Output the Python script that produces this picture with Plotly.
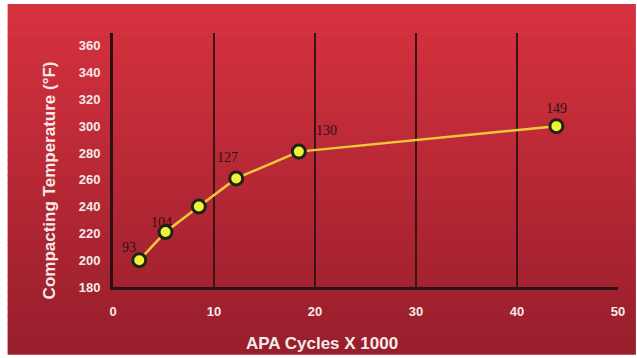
import plotly.graph_objects as go

# Data
cycles_k = [2.6, 5.2, 8.5, 12.2, 18.4, 43.9]
temp_f = [200, 221, 240, 261, 281, 300]
point_labels = ["93", "104", "", "127", "130", "149"]
x_ticks = [0, 10, 20, 30, 40, 50]
y_ticks = [180, 200, 220, 240, 260, 280, 300, 320, 340, 360]

W, H = 637, 358
L, R, T, B = 113, 16, 33, 71
PW, PH = W - L - R, H - T - B


def px_x(px):
    return (px - L) / PW


def px_y(py):
    return (H - B - py) / PH


fig = go.Figure()

# gradient background (bands)
n = 45
top = (214, 50, 62)
bot = (152, 30, 44)
ytop_px, ybot_px = 4, 354
shapes = []
for i in range(n):
    t = i / (n - 1)
    c = tuple(int(round(top[k] + (bot[k] - top[k]) * t)) for k in range(3))
    ya = ytop_px + (ybot_px - ytop_px) * i / n
    yb = ytop_px + (ybot_px - ytop_px) * (i + 1) / n + 0.8
    shapes.append(dict(type="rect", xref="paper", yref="paper", x0=px_x(7), x1=px_x(W + 2),
                       y0=px_y(yb), y1=px_y(ya), fillcolor="rgb(%d,%d,%d)" % c,
                       line=dict(width=0), layer="below"))

fig.add_trace(go.Scatter(
    x=cycles_k, y=temp_f, mode="lines+markers",
    line=dict(color="#eec83a", width=2.5),
    marker=dict(size=13, color="#eef23a", line=dict(color="#1e2414", width=3)),
    hoverinfo="skip", showlegend=False,
))

offsets = [(-10, 13), (-4, 10), (0, 0), (-9, 21), (28, 21), (0, 18)]
anns = []
for xv, yv, lab, (dx, dy) in zip(cycles_k, temp_f, point_labels, offsets):
    if not lab:
        continue
    anns.append(dict(x=xv, y=yv, text=lab, showarrow=False, xshift=dx, yshift=dy,
                     font=dict(family="Liberation Serif, Times New Roman, serif",
                               size=14, color="#2a1414")))

anns.append(dict(xref="paper", yref="paper", x=px_x(323), y=px_y(343),
                 text="<b>APA Cycles X 1000</b>", showarrow=False,
                 font=dict(family="Liberation Sans Narrow, Liberation Sans, Arial", size=17,
                           color="#f4eaea"), xanchor="center", yanchor="middle"))
anns.append(dict(xref="paper", yref="paper", x=px_x(49), y=px_y(180),
                 text="<b>Compacting Temperature (°F)</b>",
                 showarrow=False, textangle=-90,
                 font=dict(family="Liberation Sans Narrow, Liberation Sans, Arial", size=17,
                           color="#f4eaea"), xanchor="center", yanchor="middle"))

tickfont = dict(family="Liberation Sans Narrow, Liberation Sans, Arial", size=13,
                color="#f4eaea", weight="bold")

fig.update_layout(
    width=W, height=H,
    margin=dict(l=L, r=R, t=T, b=B),
    paper_bgcolor="white",
    plot_bgcolor="rgba(0,0,0,0)",
    shapes=shapes,
    annotations=anns,
    xaxis=dict(range=[0, 50], tickvals=x_ticks, showgrid=True, gridcolor="#3a1418",
               gridwidth=2, zeroline=False, showline=True, linecolor="#2a1214",
               linewidth=3, ticks="", tickfont=tickfont, ticklabelstandoff=10,
               fixedrange=True),
    yaxis=dict(range=[180, 369.5], tickvals=y_ticks, showgrid=False, zeroline=False,
               showline=True, linecolor="#2a1214", linewidth=3, ticks="",
               tickfont=tickfont, ticklabelstandoff=7, fixedrange=True),
)

fig.write_html("out.html", config={"displayModeBar": False, "staticPlot": True},
               post_script="document.body.style.margin='0';document.body.style.overflow='hidden';")
